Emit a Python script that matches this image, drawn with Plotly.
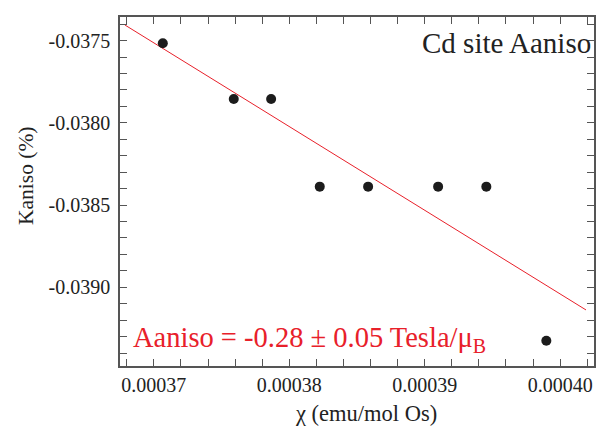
import plotly.graph_objects as go

# Measured susceptibility and Knight-shift anisotropy
chi = [0.00037066, 0.00037590, 0.00037866, 0.00038225, 0.00038582, 0.00039099, 0.00039455, 0.00039898]
k_aniso = [-0.037516, -0.037855, -0.037855, -0.038388, -0.038388, -0.038388, -0.038388, -0.039325]

# Linear fit (end points of the fitted line)
fit_chi = [0.00036786, 0.00040191]
fit_k = [-0.0374045, -0.039138]

x_tickvals = [0.00037, 0.00038, 0.00039, 0.00040]
x_ticktext = ["0.00037", "0.00038", "0.00039", "0.00040"]
y_tickvals = [-0.0375, -0.0380, -0.0385, -0.0390]
y_ticktext = ["-0.0375", "-0.0380", "-0.0385", "-0.0390"]

FONT = "Liberation Serif"
FRAME = "#555555"
TEXT = "#222222"
RED = "#e8202a"

fig = go.Figure()
fig.add_trace(go.Scatter(x=fit_chi, y=fit_k, mode="lines",
                         line=dict(color=RED, width=1), showlegend=False))
fig.add_trace(go.Scatter(x=chi, y=k_aniso, mode="markers",
                         marker=dict(color="#1c1c1c", size=10), showlegend=False))

axis_common = dict(
    showline=True, linecolor=FRAME, linewidth=1.5, mirror="ticks",
    ticks="inside", ticklen=7, tickwidth=1, tickcolor=FRAME,
    showgrid=False, zeroline=False,
    tickfont=dict(family=FONT, size=20, color=TEXT),
)

fig.update_xaxes(
    range=[0.0003675, 0.0004025], tickvals=x_tickvals, ticktext=x_ticktext,
    minor=dict(dtick=0.000002, tick0=0.00037, ticks="inside", ticklen=7, tickcolor=FRAME),
    **axis_common,
)
fig.update_yaxes(
    range=[-0.039479, -0.037356], tickvals=y_tickvals, ticktext=y_ticktext,
    minor=dict(dtick=0.0001, tick0=-0.0375, ticks="inside", ticklen=7, tickcolor=FRAME),
    ticklabelstandoff=4,
    **axis_common,
)

# Axis titles
fig.add_annotation(text="χ (emu/mol Os)", xref="paper", yref="paper",
                   x=0.519, y=-0.1347, xanchor="center", yanchor="middle",
                   showarrow=False, font=dict(family=FONT, size=22.5, color=TEXT))
fig.add_annotation(text="Kaniso (%)", xref="paper", yref="paper", textangle=-90,
                   x=-0.1983, y=0.5444, xanchor="center", yanchor="middle",
                   showarrow=False, font=dict(family=FONT, size=21.5, color=TEXT))

# In-plot labels
fig.add_annotation(text="Cd site Aaniso", xref="paper", yref="paper",
                   x=0.998, y=0.926, xanchor="right", yanchor="middle",
                   showarrow=False, font=dict(family=FONT, size=29, color=TEXT))
fig.add_annotation(text="Aaniso = -0.28 ± 0.05 Tesla/μ<sub>B</sub>", xref="paper", yref="paper",
                   x=0.0233, y=0.077, xanchor="left", yanchor="middle",
                   showarrow=False, font=dict(family=FONT, size=28.5, color=RED))

fig.update_layout(
    width=603, height=427,
    margin=dict(l=120, r=9, t=17, b=61, autoexpand=False),
    paper_bgcolor="white", plot_bgcolor="white",
    font=dict(family=FONT),
)

fig.write_html("out.html")
